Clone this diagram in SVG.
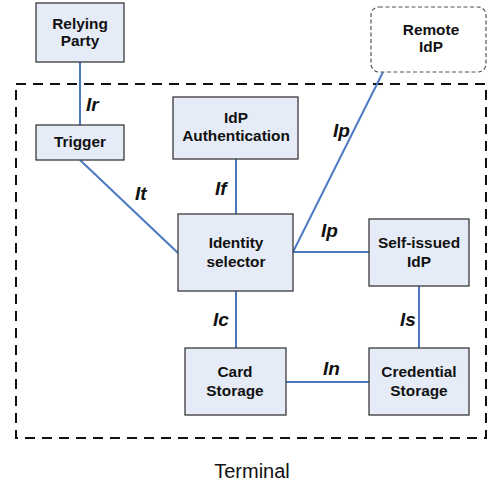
<svg xmlns="http://www.w3.org/2000/svg" width="487" height="483" viewBox="0 0 487 483">
  <style>
    .box { fill: #e6ecf7; stroke: #3a3a3a; stroke-width: 1.3; }
    .remote { fill: #ffffff; stroke: #555555; stroke-width: 1.2; stroke-dasharray: 4 2.5; }
    .term { fill: none; stroke: #111111; stroke-width: 2; stroke-dasharray: 10 7; }
    .link { stroke: #4a78c2; stroke-width: 2; fill: none; }
    .name { font-family: "Liberation Sans", Arial, sans-serif; font-size: 15.4px; font-weight: bold; fill: #111; text-anchor: middle; }
    .iface { font-family: "Liberation Sans", Arial, sans-serif; font-size: 19px; font-weight: bold; font-style: italic; fill: #111; }
    .caption { font-family: "Liberation Sans", Arial, sans-serif; font-size: 20px; fill: #111; text-anchor: middle; }
  </style>

  <!-- terminal boundary -->
  <rect class="term" x="16" y="84" width="470" height="354"/>
  <text class="caption" x="252" y="478">Terminal</text>

  <!-- connectors -->
  <g id="connectors">
    <line class="link" x1="80" y1="62" x2="80" y2="125"/>
    <line class="link" x1="80" y1="160" x2="178" y2="253"/>
    <line class="link" x1="236" y1="159" x2="236" y2="214"/>
    <line class="link" x1="383" y1="72" x2="293" y2="252"/>
    <line class="link" x1="293" y1="252" x2="369" y2="252"/>
    <line class="link" x1="236" y1="291" x2="236" y2="348"/>
    <line class="link" x1="419" y1="286" x2="419" y2="348"/>
    <line class="link" x1="286" y1="382" x2="369" y2="382"/>
    <text class="iface" x="86" y="111">Ir</text>
    <text class="iface" x="135" y="200">It</text>
    <text class="iface" x="215" y="195">If</text>
    <text class="iface" x="333" y="137">Ip</text>
    <text class="iface" x="321" y="237">Ip</text>
    <text class="iface" x="213" y="326">Ic</text>
    <text class="iface" x="400" y="326">Is</text>
    <text class="iface" x="323" y="375">In</text>
  </g>

  <g id="relying-party">
    <rect class="box" x="36" y="3" width="88" height="59"/>
    <text class="name" x="80" y="29">Relying</text>
    <text class="name" x="80" y="46">Party</text>
  </g>

  <g id="trigger">
    <rect class="box" x="36" y="125" width="88" height="35"/>
    <text class="name" x="80" y="147">Trigger</text>
  </g>

  <g id="remote-idp">
    <rect class="remote" x="371" y="7" width="115" height="65" rx="8"/>
    <text class="name" x="431" y="35">Remote</text>
    <text class="name" x="431" y="52">IdP</text>
  </g>

  <g id="idp-authentication">
    <rect class="box" x="173" y="97" width="125" height="62"/>
    <text class="name" x="236" y="123">IdP</text>
    <text class="name" x="236" y="141">Authentication</text>
  </g>

  <g id="identity-selector">
    <rect class="box" x="178" y="214" width="115" height="77"/>
    <text class="name" x="236" y="248">Identity</text>
    <text class="name" x="236" y="267">selector</text>
  </g>

  <g id="self-issued-idp">
    <rect class="box" x="369" y="219" width="100" height="67"/>
    <text class="name" x="419" y="248">Self-issued</text>
    <text class="name" x="419" y="267">IdP</text>
  </g>

  <g id="card-storage">
    <rect class="box" x="185" y="348" width="101" height="67"/>
    <text class="name" x="235" y="377">Card</text>
    <text class="name" x="235" y="396">Storage</text>
  </g>

  <g id="credential-storage">
    <rect class="box" x="369" y="348" width="100" height="67"/>
    <text class="name" x="419" y="377">Credential</text>
    <text class="name" x="419" y="396">Storage</text>
  </g>
</svg>
